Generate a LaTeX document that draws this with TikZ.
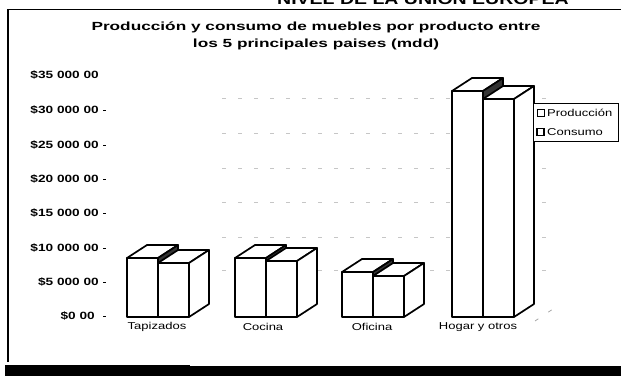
\documentclass[tikz,border=0pt]{standalone}
\usepackage{fontspec}
\setmainfont{Liberation Sans}
\newfontfamily\widefont{Liberation Sans}[FakeStretch=1.3]
\newfontfamily\titlewide{Liberation Sans}[FakeStretch=1.46]
\tikzset{
  barline/.style={line width=1.7pt, line join=round},
  gridfrag/.style={gray!45, line width=0.8pt, dash pattern=on 4pt off 12pt},
  ylab/.style={anchor=east, inner sep=0pt, font=\widefont\bfseries\fontsize{10.5}{12}\selectfont},
  catlab/.style={anchor=center, inner sep=0pt, font=\widefont\fontsize{10}{12}\selectfont},
  leglab/.style={anchor=west, inner sep=0pt, font=\widefont\fontsize{10}{12}\selectfont},
  titlefont/.style={font=\titlewide\bfseries\fontsize{11.8}{17}\selectfont, align=center, inner sep=0pt}
}
\newcommand\barbox[3]{%
  \filldraw[barline, fill=white] (#1,317) rectangle ({#1+31},#2);
  \filldraw[barline, fill=white] (#1,#2) -- ({#1+31},#2) -- ({#1+51},{#2-13}) -- ({#1+20},{#2-13}) -- cycle;
  \filldraw[barline, fill=#3] ({#1+31},#2) -- ({#1+51},{#2-13}) -- ({#1+51},304) -- ({#1+31},317) -- cycle;
}
\begin{document}
\begin{tikzpicture}[x=1pt, y=-1pt]
\useasboundingbox (0,0) rectangle (621,376);
\fill[white] (0,0) rectangle (621,376);
% cut-off heading at the very top (cut by the page edge, as in the reference)
\node[anchor=base west, inner sep=0pt, font=\widefont\bfseries\fontsize{15}{16}\selectfont] (head) at (277,4.5) {NIVEL DE LA UNIÓN EUROPEA};
% frame
\draw[line width=1.5pt] (621,9.5) -- (8,9.5) -- (8,362);
\fill[black] (5,366) rectangle (621,376);
\fill[black] (5,364.5) rectangle (190,366);
% title
\node[titlefont] (title) at (316,36) {Producción y consumo de muebles por producto entre\\los 5 principales paises (mdd)};
% back-wall gridline fragments
\foreach \yy in {98,133,168,202,237,270}{
  \draw[gridfrag] (222,\yy) -- (552,\yy);
}
% floor edge marks
\draw[gridfrag, gray!70] (535,321) -- (556,307);
% y-axis labels and ticks
\foreach \v/\yy in {35/75, 30/110, 25/145, 20/179, 15/213, 10/248, 5/282}{
  \node[ylab] (y\v) at (99,\yy) {\$\v{} 000 00};
}
\node[ylab] (y0) at (95,316) {\$0 00};
\foreach \yy in {110,145,179,213,248,282,316}{
  \draw[line width=0.8pt] (103,\yy) -- (106,\yy);
}
% bars: Producción then Consumo
\barbox{127}{258}{black!80}
\barbox{158}{263}{white}
\barbox{235}{258}{black!80}
\barbox{266}{261}{white}
\barbox{342}{272}{black!80}
\barbox{373}{276}{white}
\barbox{452}{91}{black!80}
\barbox{483}{99}{white}
% category labels
\node[catlab] (c1) at (157,327) {Tapizados};
\node[catlab] (c2) at (263,327) {Cocina};
\node[catlab] (c3) at (372,327) {Oficina};
\node[catlab] (c4) at (478,327) {Hogar y otros};
% legend
\filldraw[fill=white, draw=black, line width=0.8pt] (533,103) rectangle (618,141);
\draw[line width=1pt, fill=white] (537,109.5) rectangle (544,116.5);
\draw[line width=1.6pt, fill=white] (537,128.5) rectangle (544,135.5);
\node[leglab] (l1) at (547,113) {Producción};
\node[leglab] (l2) at (547,132) {Consumo};
\end{tikzpicture}
\end{document}
